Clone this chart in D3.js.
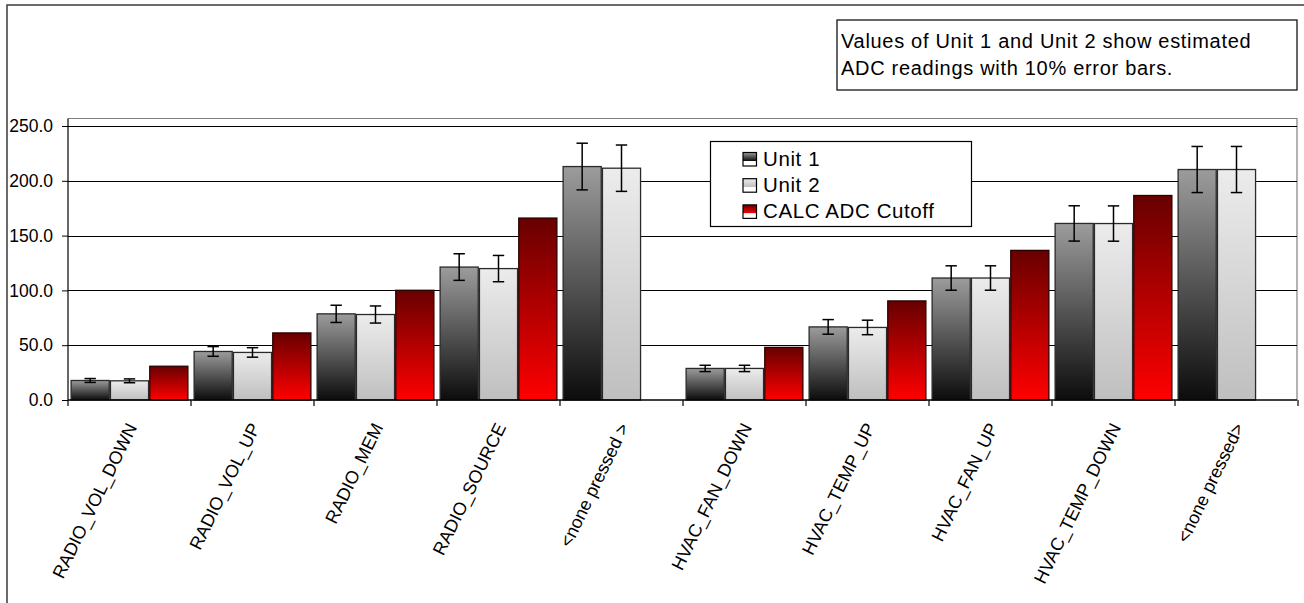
<!DOCTYPE html>
<html>
<head>
<meta charset="utf-8">
<script src="https://cdn.jsdelivr.net/npm/d3@7"></script>
<style>
  html, body { margin: 0; padding: 0; background: #fff; }
  svg { display: block; font-family: "Liberation Sans", Arial, Helvetica, sans-serif; }
</style>
</head>
<body>
<svg id="chart" width="1304" height="603"></svg>
<script>
// ---- data ----
const categories = ["RADIO_VOL_DOWN", "RADIO_VOL_UP", "RADIO_MEM", "RADIO_SOURCE", "<none pressed >",
                    "HVAC_FAN_DOWN", "HVAC_TEMP_UP", "HVAC_FAN_UP", "HVAC_TEMP_DOWN", "<none pressed>"];
const seriesNames = ["Unit 1", "Unit 2", "CALC ADC Cutoff"];
const unit1 = [17.8, 44.3, 78.6, 121.3, 213.0, 28.8, 66.7, 111.3, 161.1, 210.3];
const unit2 = [17.5, 43.4, 78.0, 119.9, 211.5, 28.8, 66.2, 111.3, 161.0, 210.3];
const calc  = [30.8, 61.2, 100.1, 166.0, null, 48.0, 90.4, 136.5, 186.6, null];
const yTicks = [0, 50, 100, 150, 200, 250];
const errorFraction = 0.10;
const noteLines = ["Values of Unit 1 and Unit 2 show estimated", "ADC readings with 10% error bars."];

const seriesValues = [unit1, unit2, calc];
const rows = categories.map((c, i) => ({ cat: c, vals: seriesValues.map(s => s[i]) }));

// ---- layout ----
const svg = d3.select("#chart");
const plotL = 68, plotR = 1297, plotTop = 118.5, plotB = 400;

const x0 = d3.scaleBand().domain(categories).range([plotL, plotL + 1230]).padding(0);
const x1 = d3.scaleBand().domain(seriesNames).range([0, x0.bandwidth()]).paddingInner(0).paddingOuter(0.064);
const y = d3.scaleLinear().domain([0, 250]).range([plotB, 126]);

// ---- gradients ----
const defs = svg.append("defs");
const gradStops = [
  [["0%", "#9c9c9c"], ["100%", "#0c0c0c"]],
  [["0%", "#ececec"], ["100%", "#bfbfbf"]],
  [["0%", "#680000"], ["100%", "#ff0000"]]
];
gradStops.forEach((stops, i) => {
  const g = defs.append("linearGradient").attr("id", "bar" + i)
    .attr("x1", 0).attr("y1", 0).attr("x2", 0).attr("y2", 1);
  stops.forEach(s => g.append("stop").attr("offset", s[0]).attr("stop-color", s[1]));
  const lg = defs.append("linearGradient").attr("id", "leg" + i)
    .attr("x1", 0).attr("y1", 0).attr("x2", 0).attr("y2", 1);
  lg.append("stop").attr("offset", "0%").attr("stop-color", stops[0][1]);
  lg.append("stop").attr("offset", "62%").attr("stop-color", stops[1][1]);
  lg.append("stop").attr("offset", "64%").attr("stop-color", "#ffffff");
  lg.append("stop").attr("offset", "100%").attr("stop-color", "#ffffff");
});

// ---- chart frame ----
svg.append("path").attr("d", "M7,603 V5 H1304")
  .attr("fill", "none").attr("stroke", "#3a3a3a").attr("stroke-width", 1.5);

// plot area border (top & right, gray)
svg.append("path").attr("d", `M${plotL},${plotTop} H${plotR} V${plotB}`)
  .attr("fill", "none").attr("stroke", "#808080").attr("stroke-width", 1.2);

// gridlines
svg.append("g").selectAll("line").data(yTicks.filter(d => d > 0)).join("line")
  .attr("x1", plotL).attr("x2", plotR)
  .attr("y1", d => Math.round(y(d)) + 0.5).attr("y2", d => Math.round(y(d)) + 0.5)
  .attr("stroke", "#000").attr("stroke-width", 1);

// y axis
const yAxis = d3.axisLeft(y).tickValues(yTicks).tickFormat(d3.format(".1f")).tickSize(6).tickPadding(9);
const gy = svg.append("g").attr("transform", `translate(${plotL},0)`).call(yAxis);
gy.select(".domain").remove();
gy.selectAll(".tick line").attr("stroke", "#000");
gy.selectAll(".tick text").attr("font-size", "17.5px").attr("fill", "#000")
  .attr("font-family", '"Liberation Sans", Arial, sans-serif');
svg.append("line").attr("x1", plotL).attr("x2", plotL).attr("y1", plotTop).attr("y2", plotB)
  .attr("stroke", "#000").attr("stroke-width", 1.2);

// bars
const gBars = svg.append("g");
rows.forEach(r => {
  r.vals.forEach((v, j) => {
    if (v == null) return;
    gBars.append("rect")
      .attr("x", x0(r.cat) + x1(seriesNames[j]) + 0.6)
      .attr("y", y(v))
      .attr("width", x1.bandwidth() - 1.2)
      .attr("height", plotB - y(v))
      .attr("fill", `url(#bar${j})`)
      .attr("stroke", j === 2 ? "#2a0000" : "#2a2a2a")
      .attr("stroke-width", 1.3);
  });
});

// error bars (Unit 1 and Unit 2)
const gErr = svg.append("g").attr("stroke", "#000").attr("stroke-width", 1.5);
rows.forEach(r => {
  [0, 1].forEach(j => {
    const v = r.vals[j];
    if (v == null) return;
    const cx = x0(r.cat) + x1(seriesNames[j]) + x1.bandwidth() / 2;
    const hi = y(v * (1 + errorFraction)), lo = y(v * (1 - errorFraction));
    gErr.append("line").attr("x1", cx).attr("x2", cx).attr("y1", hi).attr("y2", lo);
    gErr.append("line").attr("x1", cx - 5.7).attr("x2", cx + 5.7).attr("y1", hi).attr("y2", hi);
    gErr.append("line").attr("x1", cx - 5.7).attr("x2", cx + 5.7).attr("y1", lo).attr("y2", lo);
  });
});

// x axis line and boundary ticks
svg.append("line").attr("x1", plotL).attr("x2", plotR).attr("y1", plotB).attr("y2", plotB)
  .attr("stroke", "#000").attr("stroke-width", 1.3);
const bounds = categories.map(c => x0(c)).concat([x0.range()[1]]);
svg.append("g").selectAll("line").data(bounds).join("line")
  .attr("x1", d => d).attr("x2", d => d).attr("y1", plotB).attr("y2", plotB + 6)
  .attr("stroke", "#000").attr("stroke-width", 1.2);

// x labels
svg.append("g").selectAll("text").data(categories).join("text")
  .attr("transform", d => `translate(${x0(d) + x0.bandwidth() / 2 + 8},427) rotate(-64)`)
  .attr("text-anchor", "end")
  .attr("font-size", "18px")
  .attr("fill", "#000")
  .text(d => d);

// legend
const leg = svg.append("g");
leg.append("rect").attr("x", 710.5).attr("y", 141.5).attr("width", 261).attr("height", 85)
  .attr("fill", "#fff").attr("stroke", "#000").attr("stroke-width", 1.2);
seriesNames.forEach((name, i) => {
  const base = 166 + i * 26.2;
  leg.append("rect").attr("x", 743).attr("y", base - 13.5).attr("width", 13.5).attr("height", 13.5)
    .attr("fill", `url(#leg${i})`).attr("stroke", "#000").attr("stroke-width", 1.2);
  leg.append("text").attr("x", 763).attr("y", base).attr("font-size", "20.5px")
    .attr("letter-spacing", "0.6px").attr("fill", "#000").text(name);
});

// note box
const note = svg.append("g");
note.append("rect").attr("x", 837).attr("y", 20).attr("width", 460).attr("height", 70)
  .attr("fill", "#fff").attr("stroke", "#000").attr("stroke-width", 1.2);
note.selectAll("text").data(noteLines).join("text")
  .attr("x", 841).attr("y", (d, i) => 48 + i * 27)
  .attr("font-size", "20px").attr("letter-spacing", "0.7px").attr("fill", "#000")
  .text(d => d);
</script>
</body>
</html>
